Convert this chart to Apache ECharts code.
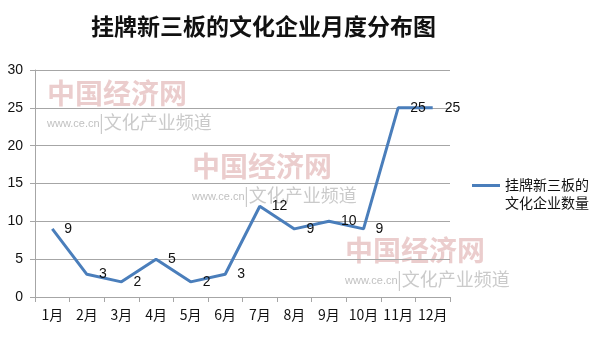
<!DOCTYPE html>
<html>
<head>
<meta charset="utf-8">
<script src="https://cdn.jsdelivr.net/npm/echarts@6/dist/echarts.min.js"></script>
<style>
  html, body { margin: 0; padding: 0; background: #fff; }
  #chart { width: 600px; height: 342px; }
</style>
</head>
<body>
<div id="chart"></div>
<script>
// Monthly counts of cultural companies listed on the NEEQ board
const months = ['1月', '2月', '3月', '4月', '5月', '6月', '7月', '8月', '9月', '10月', '11月', '12月'];
const listedCounts = [9, 3, 2, 5, 2, 3, 12, 9, 10, 9, 25, 25];
const yTicks = { min: 0, max: 30, interval: 5 };
const seriesName = '挂牌新三板的\n文化企业数量';

const gridColor = '#a6a6a6';
const lineColor = '#4a7ebb';
const cjk = '"Noto Sans CJK SC", "Liberation Sans", sans-serif';

// Site watermark blocks (logo text + url/channel line)
const marks = [[47, 79], [192, 152], [345, 236]];
const watermark = [];
marks.forEach(([x, y]) => {
  watermark.push({
    type: 'text', left: x, top: y, z: 0, silent: true,
    style: { text: '中国经济网', font: 'bold 28px ' + cjk, fill: 'rgba(205,130,130,0.4)' }
  });
  watermark.push({
    type: 'text', left: x, top: y + 39, z: 0, silent: true,
    style: { text: 'www.ce.cn', font: '11px "Liberation Sans", sans-serif', fill: 'rgba(150,150,150,0.6)' }
  });
  watermark.push({
    type: 'text', left: x + 52, top: y + 34, z: 0, silent: true,
    style: { text: '|文化产业频道', font: '18px ' + cjk, fill: 'rgba(150,150,150,0.5)' }
  });
});

const chart = echarts.init(document.getElementById('chart'), null, { renderer: 'canvas' });
chart.setOption({
  backgroundColor: '#fff',
  animation: false,
  title: {
    text: '挂牌新三板的文化企业月度分布图',
    left: 86, top: 10,
    textStyle: { fontFamily: cjk, fontSize: 23, fontWeight: 'bold', color: '#111' }
  },
  graphic: watermark,
  legend: {
    left: 467, top: 171,
    orient: 'vertical',
    itemWidth: 28, itemHeight: 36,
    icon: 'path://M0,0h0.01v0.01h-0.01Z M0,8H28V11H0Z M0,36h0.01v0.01h-0.01Z',
    textStyle: { fontFamily: cjk, fontSize: 14, lineHeight: 18, color: '#111' },
    data: [seriesName]
  },
  grid: { left: 35, right: 150, top: 70, bottom: 45 },
  xAxis: {
    type: 'category',
    data: months,
    boundaryGap: true,
    axisLine: { lineStyle: { color: gridColor } },
    axisTick: { show: true, length: 5, interval: 0, lineStyle: { color: gridColor } },
    axisLabel: { interval: 0, margin: 11, fontFamily: cjk, fontSize: 14, color: '#111' }
  },
  yAxis: {
    type: 'value',
    min: yTicks.min, max: yTicks.max, interval: yTicks.interval,
    axisLine: { show: true, lineStyle: { color: gridColor } },
    axisTick: { show: true, length: 5, lineStyle: { color: gridColor } },
    splitLine: { lineStyle: { color: gridColor, width: 1 } },
    axisLabel: { margin: 12, fontFamily: '"Liberation Sans", sans-serif', fontSize: 14, color: '#111' }
  },
  series: [{
    name: seriesName,
    type: 'line',
    data: listedCounts,
    symbol: 'circle',
    symbolSize: 0,
    showSymbol: true,
    z: 5,
    lineStyle: { color: lineColor, width: 3 },
    itemStyle: { color: lineColor },
    labelLayout: { hideOverlap: false },
    label: {
      show: true, position: 'right', distance: 12,
      fontFamily: '"Liberation Sans", sans-serif', fontSize: 14, color: '#111'
    }
  }]
});
</script>
</body>
</html>
